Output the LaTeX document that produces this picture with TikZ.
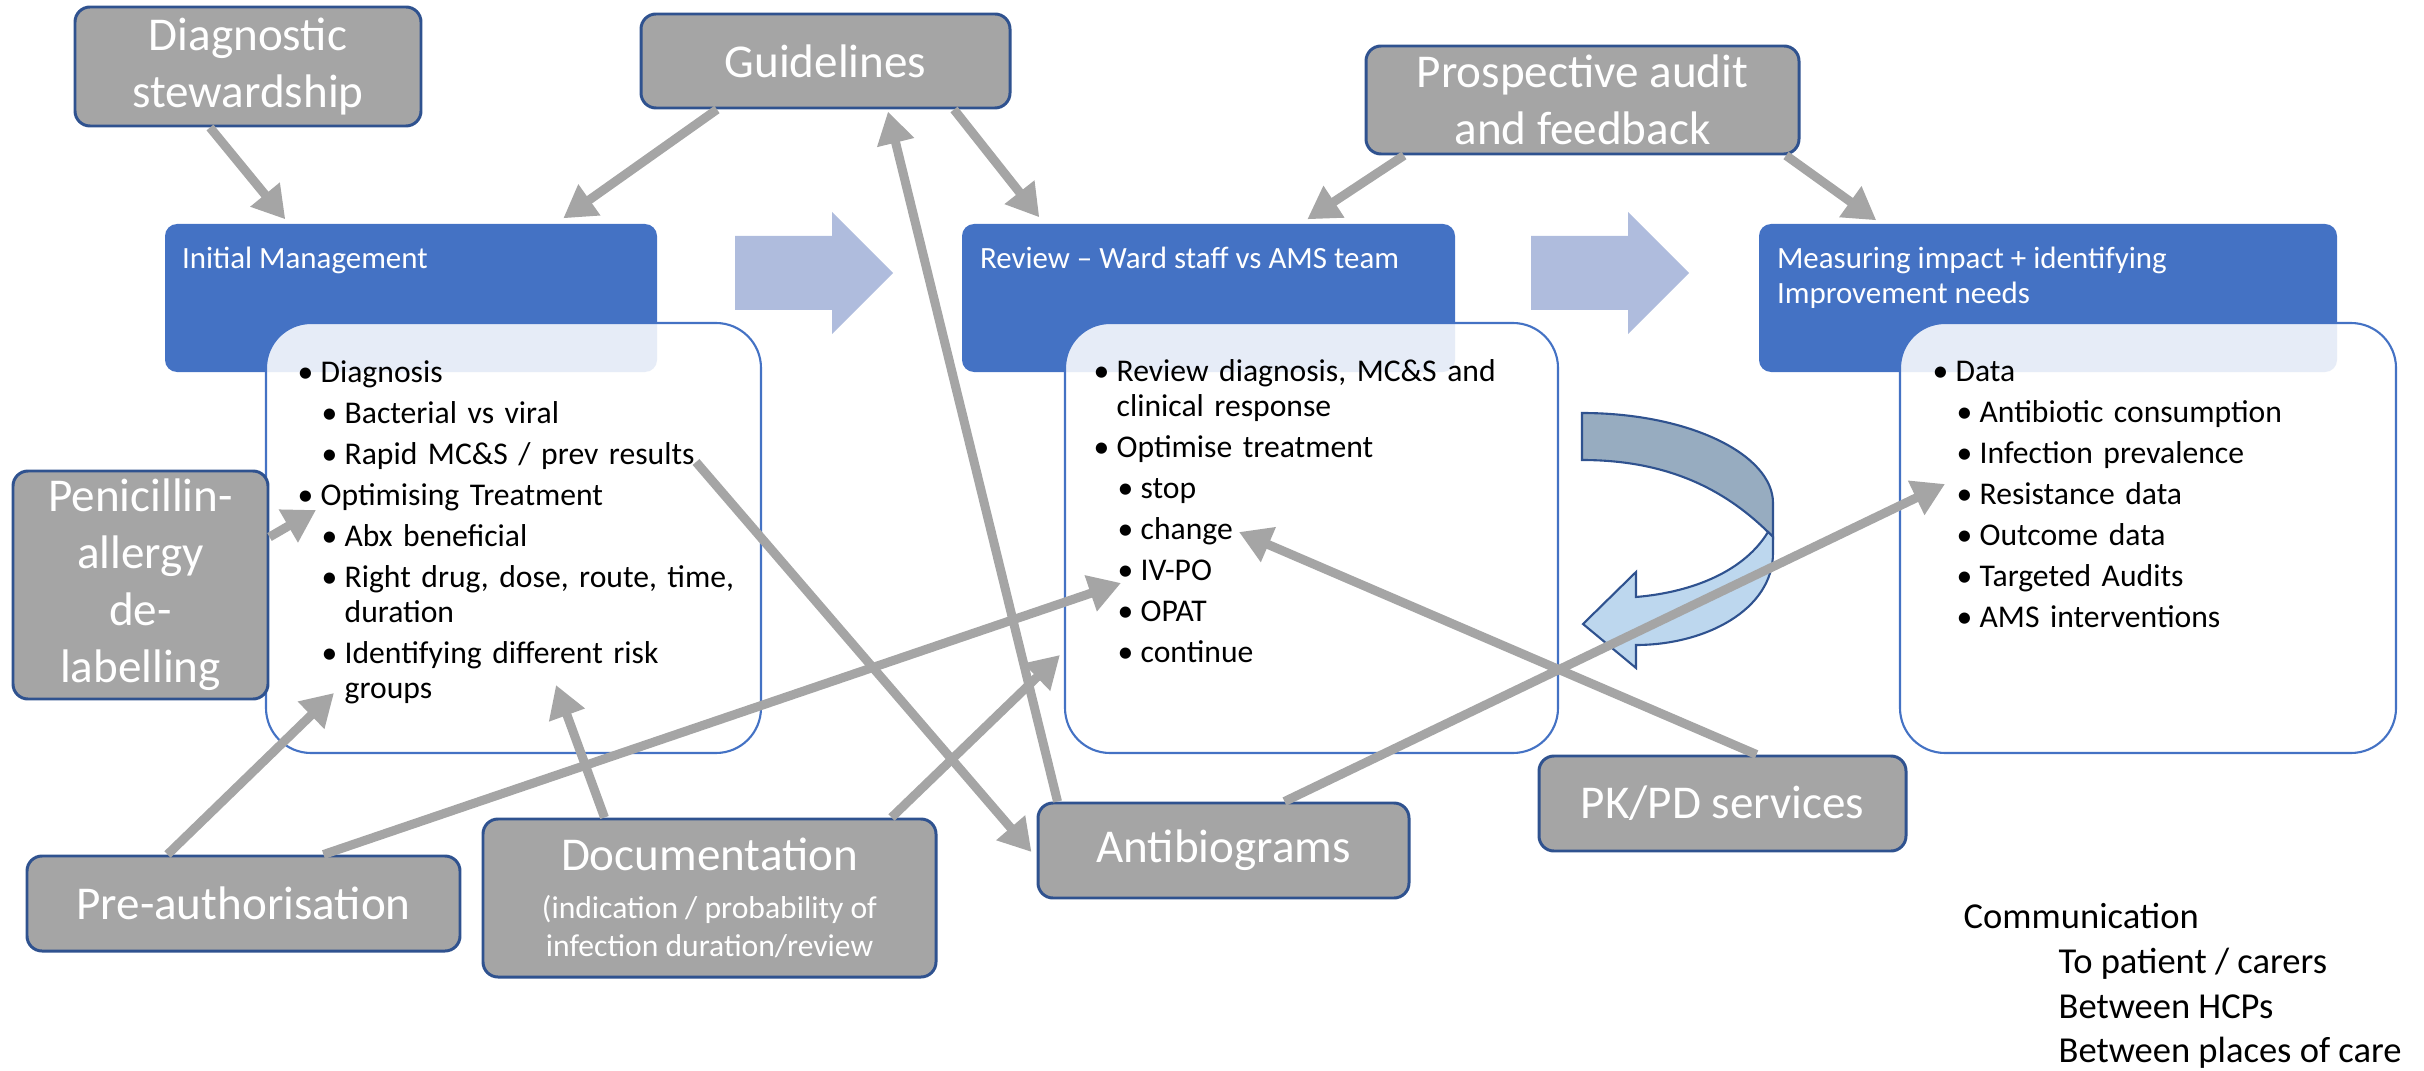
\documentclass[tikz,border=0pt]{standalone}
\usepackage{fontspec}
\setmainfont{Carlito}
\usetikzlibrary{positioning,arrows.meta}

\definecolor{amsblue}{HTML}{4472C4}
\definecolor{boxedge}{HTML}{2F528F}
\definecolor{boxgray}{HTML}{A5A5A5}
\definecolor{flowarrow}{HTML}{AFBCDD}
\definecolor{loopdark}{HTML}{97ACC0}
\definecolor{looplight}{HTML}{BDD7EE}

% list items: level one, level two, and a carried-on line
\newcommand{\listsetup}{\setlength{\parindent}{0pt}\setlength{\parskip}{0.06cm}}
\newcommand{\ptA}[1]{\leavevmode\hangindent=0.17cm\relax\hangafter=1\relax
  \makebox[0.17cm][l]{\kern-0.06cm\textbullet}#1\par}
\newcommand{\ptB}[1]{\leavevmode\hangindent=0.41cm\relax\hangafter=1\relax
  \makebox[0.24cm]{}\makebox[0.17cm][l]{\kern-0.06cm\textbullet}#1\par}
\newcommand{\ptcont}[2]{\hbox{\kern#1\relax #2}}

\begin{document}
\begin{tikzpicture}[
  tool/.style={draw=boxedge, line width=0.85pt, fill=boxgray, rounded corners=0.15cm,
    text=white, align=center, inner sep=0pt, font=\fontsize{13.4}{16.2}\selectfont},
  stagebg/.style={fill=amsblue, rounded corners=0.12cm, inner sep=0pt, minimum height=1.48cm},
  stagebox/.style={draw=amsblue, line width=0.6pt, fill=white, fill opacity=0.87,
    rounded corners=0.45cm, inner sep=0pt, minimum height=4.30cm},
  stagetitle/.style={text=white, align=left, inner sep=0pt, font=\fontsize{8.8}{10}\selectfont},
  points/.style={text width=4.4cm, inner sep=0pt, font=\fontsize{9}{9.96}\selectfont},
  link/.style={draw=boxgray, line width=0.09cm, -{Triangle[length=0.32cm,width=0.36cm]}},
]
\useasboundingbox (0,0) rectangle (24.24,10.70);

% Block arrows between the stages
\foreach \x in {7.35,15.31} {
  \fill[flowarrow] (\x,8.34) -- ++(0.97,0) -- ++(0,0.24) -- ++(0.61,-0.61)
    -- ++(-0.61,-0.61) -- ++(0,0.24) -- ++(-0.97,0) -- cycle;
}

% Stage headers
\node[stagebg, minimum width=4.92cm] (initbg) at (4.11,7.72) {};
\node[stagebg, minimum width=4.93cm] (revbg) at (12.085,7.72) {};
\node[stagebg, minimum width=5.78cm] (measbg) at (20.48,7.72) {};

% Stage contents
\node[stagebox, minimum width=4.95cm] (initbox) at (5.135,5.32) {};
\node[stagebox, minimum width=4.93cm] (revbox) at (13.115,5.32) {};
\node[stagebox, minimum width=4.96cm] (measbox) at (21.48,5.32) {};

\node[stagetitle, below right=0.23cm and 0.17cm of initbg.north west] (inittitle) {Initial Management};
\node[stagetitle, below right=0.23cm and 0.18cm of revbg.north west] (revtitle) {Review – Ward staff vs AMS team};
\node[stagetitle, below right=0.23cm and 0.18cm of measbg.north west] (meastitle) {Measuring impact + identifying\\Improvement needs};

\node[points, below right=0.38cm and 0.38cm of initbox.north west] (initlist) {\listsetup
  \ptA{Diagnosis}
  \ptB{Bacterial vs viral}
  \ptB{Rapid MC\&S / prev results}
  \ptA{Optimising Treatment}
  \ptB{Abx beneficial}
  \ptB{Right drug, dose, route, time,\newline duration}
  \ptB{Identifying different risk\newline groups}};
\node[points, below right=0.37cm and 0.35cm of revbox.north west] (revlist) {\listsetup
  \ptA{Review diagnosis, MC\&S and}
  \ptcont{0.17cm}{clinical response}
  \ptA{Optimise treatment}
  \ptB{stop}
  \ptB{change}
  \ptB{IV-PO}
  \ptB{OPAT}
  \ptB{continue}};
\node[points, below right=0.39cm and 0.39cm of measbox.north west] (measlist) {\listsetup
  \ptA{Data}
  \ptB{Antibiotic consumption}
  \ptB{Infection prevalence}
  \ptB{Resistance data}
  \ptB{Outcome data}
  \ptB{Targeted Audits}
  \ptB{AMS interventions}};

% Review loop
\filldraw[draw=boxedge, line width=0.6pt, fill=loopdark]
  (15.82,6.57) .. controls (16.90,6.57) and (17.73,6.15) .. (17.73,5.67)
  -- (17.73,5.33) -- (17.68,5.38)
  .. controls (17.30,5.75) and (16.75,6.10) .. (15.82,6.10) -- cycle;
\filldraw[draw=boxedge, line width=0.6pt, fill=looplight]
  (17.68,5.38) -- (17.73,5.33) -- (17.73,5.17)
  .. controls (17.73,4.60) and (17.05,4.25) .. (16.36,4.25)
  -- (16.36,4.02) -- (15.83,4.46) -- (16.36,4.98) -- (16.36,4.73)
  .. controls (16.95,4.78) and (17.45,5.00) .. (17.68,5.38) -- cycle;

% Interventions
\node[tool, minimum width=3.46cm, minimum height=1.19cm] (diag) at (2.48,10.035) {Diagnostic\\stewardship};
\node[tool, minimum width=3.69cm, minimum height=0.94cm] (guide) at (8.255,10.09) {Guidelines};
\node[tool, minimum width=4.33cm, minimum height=1.08cm] (audit) at (15.825,9.70) {Prospective audit\\and feedback};
\node[tool, minimum width=2.55cm, minimum height=2.28cm] (allergy) at (1.405,4.85) {Penicillin-\\allergy\\de-\\labelling};
\node[tool, minimum width=4.33cm, minimum height=0.95cm] (preauth) at (2.435,1.665) {Pre-authorisation};
\node[tool, minimum width=4.53cm, minimum height=1.58cm, font=\fontsize{9}{10.8}\selectfont] (docu) at (7.095,1.72)
  {{\fontsize{13.4}{16.2}\selectfont Documentation}\\[0.10cm](indication / probability of\\infection duration/review};
\node[tool, minimum width=3.71cm, minimum height=0.95cm] (abgram) at (12.235,2.195) {Antibiograms};
\node[tool, minimum width=3.67cm, minimum height=0.95cm] (pkpd) at (17.225,2.665) {PK/PD services};

% Communication note
\node[align=left, inner sep=0pt, font=\fontsize{10.4}{12.7}\selectfont, anchor=north west] (comms) at (19.63,1.67)
  {Communication\\\makebox[0.95cm]{}To patient / carers\\\makebox[0.95cm]{}Between HCPs\\\makebox[0.95cm]{}Between places of care};

% Arrow targets inside the lists
\coordinate (optim) at (3.16,5.60);
\coordinate (rapid) at (6.96,6.08);
\coordinate (groups) at (3.34,3.77);
\coordinate (risk) at (5.56,3.85);
\coordinate (ivpo) at (11.21,4.87);
\coordinate (change) at (12.39,5.38);
\coordinate (resist) at (19.45,5.86);

% Links
\draw[link] ([xshift=-0.38cm]diag.south) -- ([xshift=1.21cm,yshift=0.04cm]initbg.north west);
\draw[link] ([xshift=-1.085cm]guide.south) -- ([xshift=3.99cm,yshift=0.05cm]initbg.north west);
\draw[link] ([xshift=1.285cm]guide.south) -- ([xshift=0.78cm,yshift=0.06cm]revbg.north west);
\draw[link] ([xshift=0.21cm]abgram.north west) -- ([xshift=0.625cm,yshift=-0.02cm]guide.south);
\draw[link] ([xshift=-1.785cm]audit.south) -- ([xshift=3.46cm,yshift=0.04cm]revbg.north west);
\draw[link] ([xshift=2.035cm]audit.south) -- ([xshift=1.18cm,yshift=0.03cm]measbg.north west);
\draw[link] ([yshift=0.48cm]allergy.east) -- (optim);
\draw[link] (rapid) -- ([xshift=-0.05cm,yshift=-0.015cm]abgram.west);
\draw[link] ([xshift=1.42cm]preauth.north west) -- (groups);
\draw[link] ([xshift=2.98cm]preauth.north west) -- (ivpo);
\draw[link] ([xshift=1.23cm]docu.north west) -- (risk);
\draw[link] ([xshift=4.10cm]docu.north west) -- ([xshift=-0.04cm,yshift=-1.17cm]revbox.west);
\draw[link] ([xshift=2.48cm]abgram.north west) -- (resist);
\draw[link] ([xshift=2.19cm]pkpd.north west) -- (change);

\end{tikzpicture}
\end{document}
